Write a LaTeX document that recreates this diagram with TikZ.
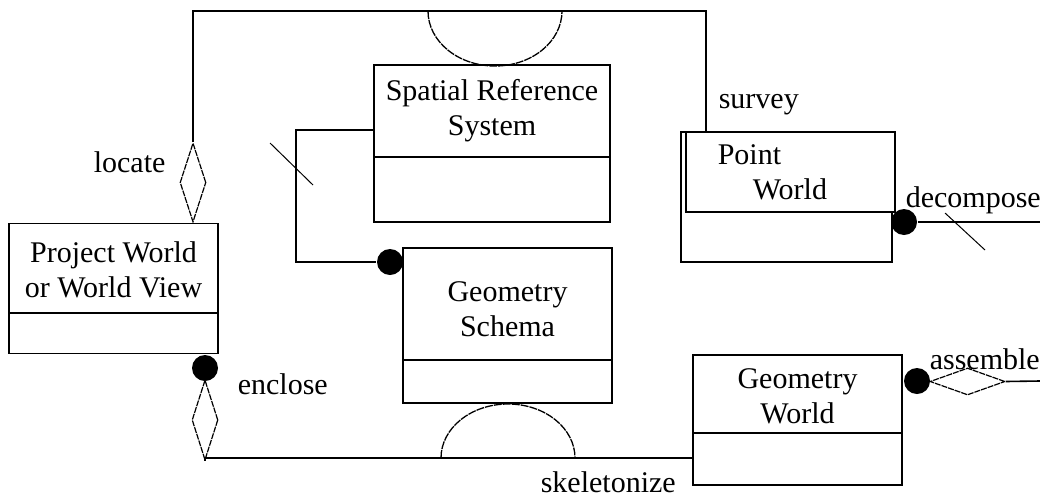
\documentclass[tikz,border=0pt]{standalone}
\usepackage{fontspec}
\setmainfont{Liberation Serif}
\usetikzlibrary{shapes.geometric}

\tikzset{
  cls/.style={draw, fill=white, inner sep=0pt},
  ttl/.style={align=center, font=\fontsize{30}{35}\selectfont, inner sep=0pt},
  lbl/.style={anchor=base west, font=\fontsize{30}{35}\selectfont, inner sep=0pt},
  blob/.style={circle, fill, minimum size=26pt, inner sep=0pt},
  agg/.style={diamond, draw, fill=white, inner sep=0pt, line width=1.2pt,
    dash pattern=on 6pt off 1pt},
  role/.style={line width=1.3pt, dash pattern=on 8pt off 1pt}
}

\begin{document}
\begin{tikzpicture}[x=1pt, y=-1pt, line width=1.6pt]
  \useasboundingbox (0,0) rectangle (1040,501);

  % classes
  \node[cls, minimum width=209pt, minimum height=130pt] (prj) at (113.5,288.5) {};
  \node[ttl] (prjt) at (113.5,270) {Project World\\or World View};
  \draw (prj.west |- 0,313) -- (prj.east |- 0,313);

  \node[cls, minimum width=236pt, minimum height=157pt] (srs) at (492,143.5) {};
  \node[ttl] (srst) at (492,111) {Spatial Reference\\System};
  \draw (srs.west |- 0,157) -- (srs.east |- 0,157);

  \node[cls, minimum width=209pt, minimum height=155pt] (gs) at (507.5,325.5) {};
  \node[ttl] (gst) at (507.5,309) {Geometry\\Schema};
  \draw (gs.west |- 0,360) -- (gs.east |- 0,360);

  \node[cls, minimum width=209pt, minimum height=130pt] (gw) at (797.5,420) {};
  \node[ttl] (gwt) at (797.5,396) {Geometry\\World};
  \draw (gw.west |- 0,433) -- (gw.east |- 0,433);

  \node[cls, minimum width=211pt, minimum height=130pt] (pw) at (786.5,197) {};
  \node[cls, minimum width=209pt, minimum height=80pt] (pwin) at (790.5,172) {};
  \node[ttl, align=left, anchor=north west] (pwt) at (717,144)
    {Point\\\hspace*{35pt}World};

  % locate / survey
  \node[agg, minimum width=26pt, minimum height=79pt] (locd) at (193,182.5) {};
  \coordinate (pwtop) at (706,132);
  \draw (locd.north) |- (pwtop |- 0,11) -- (pwtop);
  \draw[role] (428,11) arc[start angle=180, end angle=0, x radius=67, y radius=55];

  % enclose / skeletonize
  \node[blob] (encp) at (205,368) {};
  \node[agg, minimum width=26pt, minimum height=80pt] (encd) at (205,420) {};
  \coordinate (skel) at (693,458);
  \draw (encd.south) |- (skel);
  \draw[role] (441,458) arc[start angle=180, end angle=360, x radius=67, y radius=54];

  % reference system to schema
  \node[blob] (gsp) at (390,262) {};
  \coordinate (srsl) at (374,130);
  \draw (srsl) -| (296,262) -- (gsp);
  \draw[line width=1pt] (270,143) -- (313,185);

  % decompose
  \node[blob] (decp) at (904,222) {};
  \coordinate (decr) at (1040,222);
  \draw (decp) -- (decr);
  \draw[line width=1pt] (945,213) -- (985,250);

  % assemble
  \node[blob] (asmp) at (917,381) {};
  \node[agg, minimum width=75pt, minimum height=27pt] (asmd) at (967.5,381.5) {};
  \coordinate (asmr) at (1040,381);
  \draw (asmd.east) -- (asmr);

  % labels
  \node[lbl] (lsur) at (718,108) {survey};
  \node[lbl] (lloc) at (93,172) {locate};
  \node[lbl] (lenc) at (237,394) {enclose};
  \node[lbl] (lske) at (540,492) {skeletonize};
  \node[lbl] (ldec) at (905,207) {decompose};
  \node[lbl] (lasm) at (929,369) {assemble};
\end{tikzpicture}
\end{document}
